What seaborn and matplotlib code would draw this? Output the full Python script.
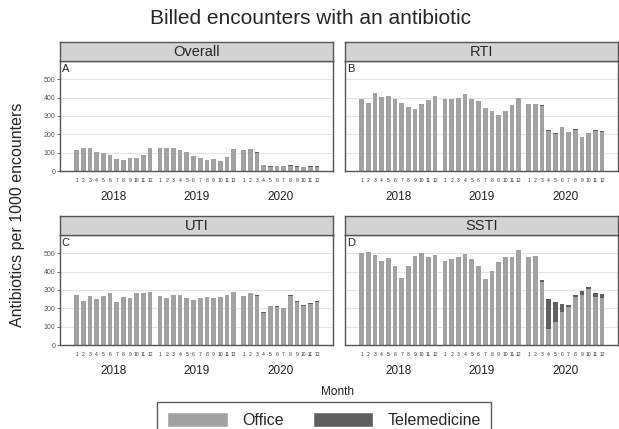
import numpy as np
import pandas as pd
import matplotlib.pyplot as plt
import seaborn as sns
from matplotlib.patches import Patch

sns.set_style("white")
plt.rcParams['font.family'] = ['Liberation Sans', 'DejaVu Sans']

years = [2018, 2019, 2020]
months = list(range(1, 13))

# total rate (office + telemedicine) per month, 2018-2020
overall_total = [116, 125, 125, 105, 100, 87, 67, 62, 73, 71, 85, 125,
                 124, 125, 124, 115, 104, 82, 69, 62, 67, 56, 78, 118,
                 115, 118, 104, 35, 27, 29, 29, 33, 25, 24, 27, 27]
overall_tele = [0] * 26 + [5, 3, 3, 3, 3, 3, 3, 3, 3, 3]

rti_total = [391, 373, 425, 404, 411, 391, 371, 349, 340, 364, 385, 407,
             391, 395, 400, 418, 393, 380, 345, 325, 307, 329, 360, 396,
             365, 365, 358, 222, 207, 242, 215, 229, 187, 209, 224, 218]
rti_tele = [0] * 26 + [6, 5, 4, 4, 4, 4, 4, 4, 4, 4]

uti_total = [274, 242, 267, 253, 267, 285, 235, 264, 258, 285, 282, 291,
             269, 256, 273, 274, 258, 247, 256, 260, 255, 262, 271, 287,
             267, 283, 273, 182, 215, 211, 204, 271, 240, 217, 227, 240]
uti_tele = [0] * 26 + [6, 6, 4, 4, 4, 5, 5, 4, 4, 4]

ssti_total = [500, 509, 489, 458, 473, 429, 368, 429, 487, 504, 478, 491,
              457, 467, 482, 495, 467, 433, 360, 402, 453, 482, 482, 520,
              480, 486, 357, 252, 234, 221, 216, 272, 297, 317, 284, 279]
ssti_tele = [0] * 26 + [13, 163, 111, 43, 11, 11, 22, 13, 21, 24]

panels = [("Overall", "A", overall_total, overall_tele),
          ("RTI", "B", rti_total, rti_tele),
          ("UTI", "C", uti_total, uti_tele),
          ("SSTI", "D", ssti_total, ssti_tele)]

office_col = "#a2a2a2"
tele_col = "#5f5f5f"
frame_col = "#555555"

W, H = 619, 429
fig = plt.figure(figsize=(W / 100, H / 100), dpi=100)

# x positions: month bars, with a small gap between years
xpos = [yi * 12.5 + (m - 1) for yi in range(3) for m in months]
month_lbl = [str(m) for y in years for m in months]

boxes = {"A": (60, 61), "B": (345, 61), "C": (60, 235), "D": (345, 235)}
pw, ph, sh = 273, 110, 19

for name, letter, total, tele in panels:
    left, top = boxes[letter]
    ax = fig.add_axes([left / W, 1 - (top + ph) / H, pw / W, ph / H])
    df = pd.DataFrame({"x": xpos, "total": total,
                       "office": np.array(total) - np.array(tele)})
    sns.barplot(data=df, x="x", y="total", native_scale=True, width=0.7,
                color=tele_col, saturation=1, linewidth=0, errorbar=None, ax=ax)
    sns.barplot(data=df, x="x", y="office", native_scale=True, width=0.7,
                color=office_col, saturation=1, linewidth=0, errorbar=None, ax=ax)
    ax.set_xlim(-2.5, 38.4)
    ax.set_ylim(0, 600)
    ax.set_axisbelow(True)
    ax.yaxis.grid(True, color="#e4e4e4", linewidth=0.8)
    ax.set_yticks(range(0, 501, 100))
    if letter in "AC":
        ax.tick_params(axis="y", labelsize=5, labelcolor="#555555", length=2,
                       width=0.6, color="#555555", pad=1.5, left=True)
    else:
        ax.tick_params(axis="y", labelleft=False, length=0)
    ax.set_xticks(xpos)
    ax.set_xticklabels(month_lbl, fontsize=3.6, color="#333333")
    ax.tick_params(axis="x", length=0, pad=5)
    ax.set_xlabel("")
    ax.set_ylabel("")
    for sp in ax.spines.values():
        sp.set_color(frame_col)
        sp.set_linewidth(1)
    ax.text(0.006, 0.97, letter, transform=ax.transAxes, fontsize=8,
            va="top", ha="left")
    for yi, y in enumerate(years):
        ax.annotate(str(y), xy=(yi * 12.5 + 5.5, 0), xycoords=("data", "axes fraction"),
                    xytext=(0, -18.5), textcoords="offset points", ha="center",
                    va="center", fontsize=8.5, color="#222222")
    # facet strip
    sax = fig.add_axes([left / W, 1 - top / H, pw / W, sh / H])
    sax.set_facecolor("#d3d3d3")
    sax.set_xticks([])
    sax.set_yticks([])
    for sp in sax.spines.values():
        sp.set_color(frame_col)
        sp.set_linewidth(1)
    sax.text(0.5, 0.47, name, transform=sax.transAxes, ha="center",
             va="center", fontsize=10.5)

fig.text(310 / W, 1 - 18 / H, "Billed encounters with an antibiotic",
         ha="center", va="center", fontsize=15)
fig.text(18 / W, 1 - 215 / H, "Antibiotics per 1000 encounters", rotation=90,
         ha="center", va="center", fontsize=11.5)
fig.text(338 / W, 1 - 392 / H, "Month", ha="center", va="center", fontsize=8.5)

handles = [Patch(facecolor=office_col, label="Office"),
           Patch(facecolor=tele_col, label="Telemedicine")]
leg = fig.legend(handles=handles, loc="upper center", ncol=2,
                 bbox_to_anchor=(324 / W, 1 - 402 / H), fontsize=11.5,
                 frameon=True, fancybox=False, edgecolor="#333333",
                 handlelength=3.8, handleheight=1.0, columnspacing=1.8,
                 borderaxespad=0, borderpad=0.65, handletextpad=0.9)
leg.get_frame().set_linewidth(1)

fig.savefig("out.png", dpi=100)
